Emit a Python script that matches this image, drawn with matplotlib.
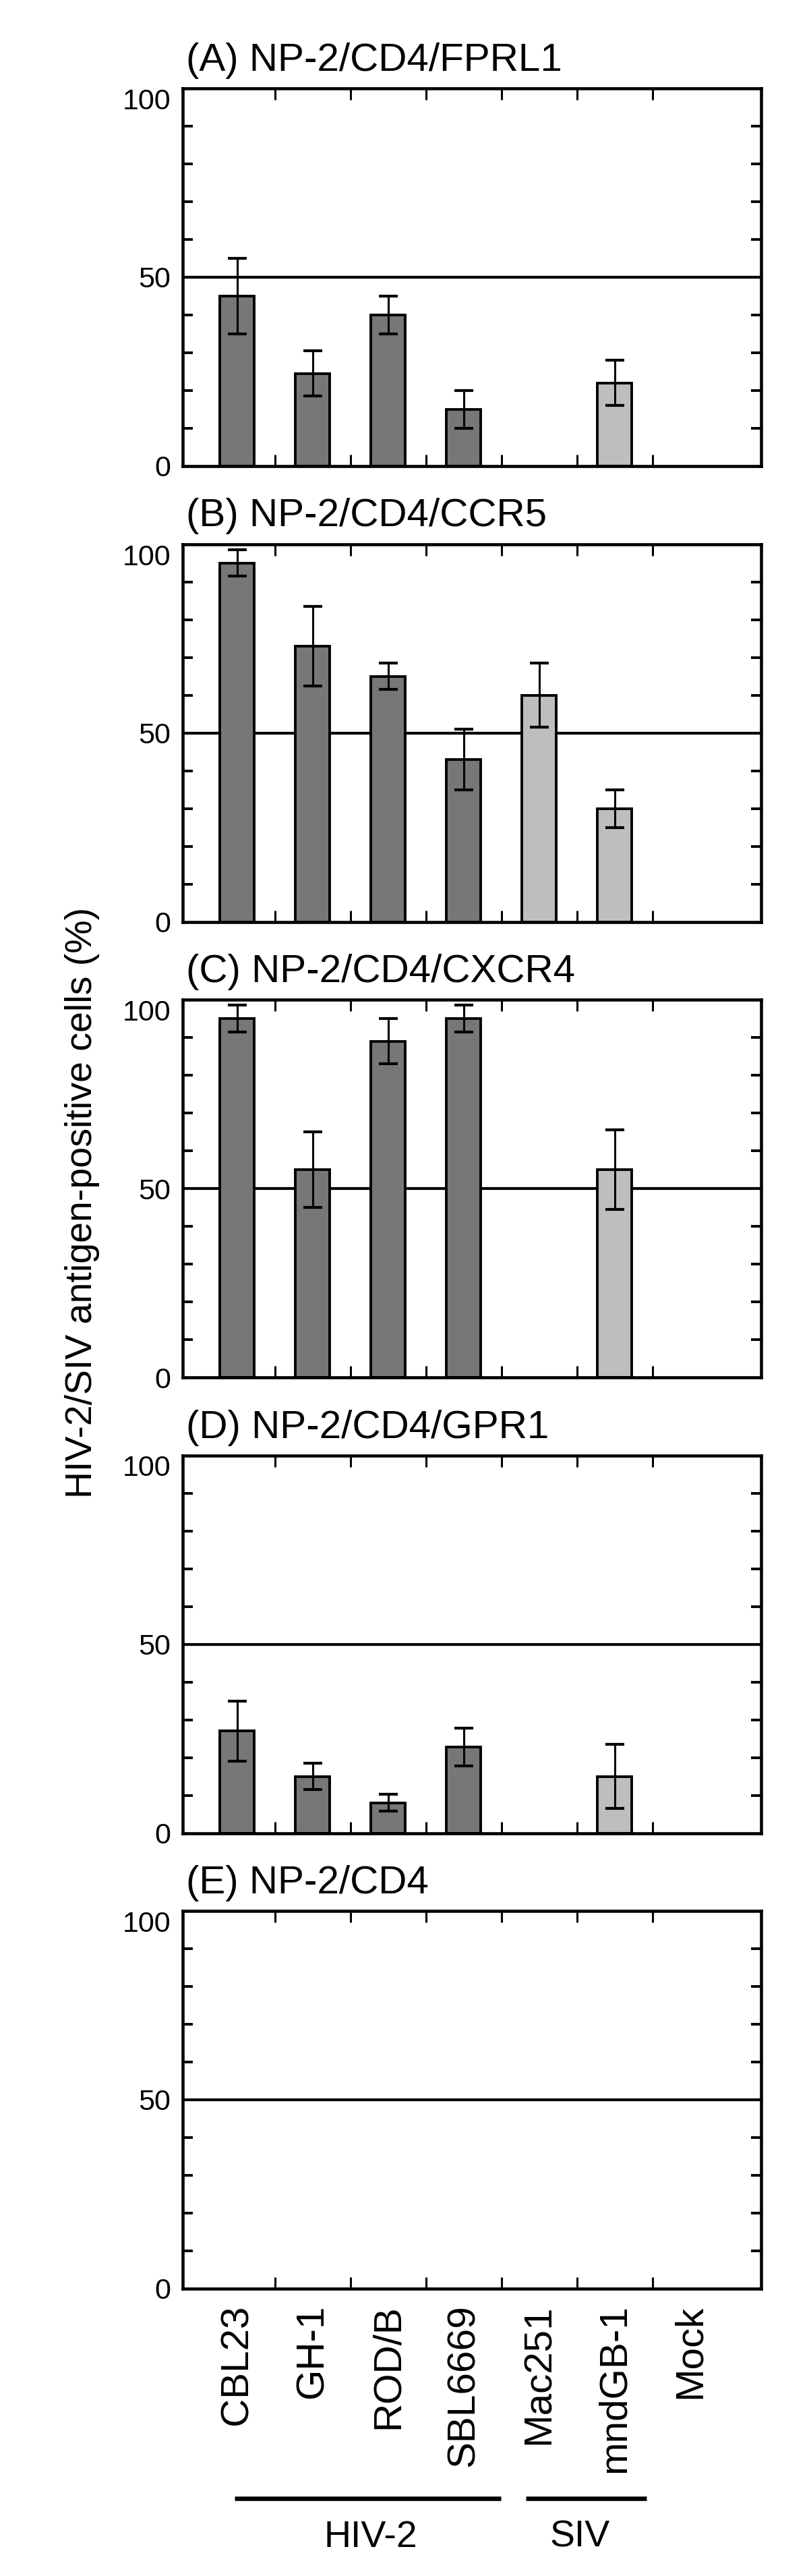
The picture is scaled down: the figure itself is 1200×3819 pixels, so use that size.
import numpy as np
import matplotlib.pyplot as plt
from matplotlib import transforms

plt.rcParams['font.family'] = ['Liberation Sans', 'DejaVu Sans']

# strains on the x axis, and which of them are SIV (light bars)
categories = ['CBL23', 'GH-1', 'ROD/B', 'SBL6669', 'Mac251', 'mndGB-1', 'Mock']
is_siv = [False, False, False, False, True, True, False]

titles = ['(A) NP-2/CD4/FPRL1', '(B) NP-2/CD4/CCR5', '(C) NP-2/CD4/CXCR4',
          '(D) NP-2/CD4/GPR1', '(E) NP-2/CD4']

# % antigen-positive cells (0 = no bar)
vals_A = [45, 24.5, 40, 15, 0, 22, 0]
errs_A = [10, 6, 5, 5, 0, 6, 0]
vals_B = [95, 73, 65, 43, 60, 30, 0]
errs_B = [3.5, 10.5, 3.5, 8, 8.5, 5, 0]
vals_C = [95, 55, 89, 95, 0, 55, 0]
errs_C = [3.5, 10, 6, 3.5, 0, 10.5, 0]
vals_D = [27, 15, 8, 22.7, 0, 15, 0]
errs_D = [8, 3.5, 2.2, 5, 0, 8.5, 0]
vals_E = [0, 0, 0, 0, 0, 0, 0]
errs_E = [0, 0, 0, 0, 0, 0, 0]

all_vals = [vals_A, vals_B, vals_C, vals_D, vals_E]
all_errs = [errs_A, errs_B, errs_C, errs_D, errs_E]

group_names = ['HIV-2', 'SIV']
group_spans = [(-0.03, 3.49), (3.82, 5.42)]   # line extents under the labels
group_text_x = [1.77, 4.54]

dark = '#777777'
light = '#bebebe'

FIG_W, FIG_H = 1200., 3819.
fig = plt.figure(figsize=(12, 38.19), dpi=100)

x = np.arange(len(categories))
colors = np.array([light if s else dark for s in is_siv])

for i in range(5):
    top = 131 + 675.5 * i
    ax = fig.add_axes([271 / FIG_W, 1 - (top + 560) / FIG_H, 858 / FIG_W, 560 / FIG_H])
    vals = np.array(all_vals[i], dtype=float)
    errs = np.array(all_errs[i], dtype=float)

    ax.axhline(50, color='k', lw=3, zorder=1)
    m = vals > 0
    if m.any():
        ax.bar(x[m], vals[m], width=0.46, color=colors[m], edgecolor='k', linewidth=2.8, zorder=2)
        ax.errorbar(x[m], vals[m], yerr=errs[m], fmt='none', ecolor='k',
                    elinewidth=2.2, capsize=10.4, capthick=3, zorder=3)

    ax.set_xlim(-0.72, 6.94)
    ax.set_ylim(0, 100)

    # y axis: labels at 0/50/100, small inward ticks every 10
    ax.set_yticks([0, 50, 100])
    ax.set_yticklabels(['0', '50', '100'])
    ax.set_yticks([10, 20, 30, 40, 60, 70, 80, 90], minor=True)
    ax.tick_params(axis='y', which='major', length=0, pad=13, labelsize=31)
    ax.tick_params(axis='y', which='minor', direction='in', length=11, width=2.8,
                   left=True, right=True)
    ax.get_yticklabels()[2].set_va('top')

    # x axis: inward ticks between categories on top and bottom
    ax.set_xticks(np.arange(0.5, 6, 1), minor=True)
    ax.tick_params(axis='x', which='minor', direction='in', length=12, width=2.2,
                   top=True, bottom=True)
    ax.set_xticks(x)
    if i == 4:
        ax.set_xticklabels(categories, rotation=90, fontsize=42)
        ax.tick_params(axis='x', which='major', length=0, pad=17)
    else:
        ax.tick_params(axis='x', which='major', length=0, labelbottom=False)

    for s in ax.spines.values():
        s.set_linewidth(3.3)

    ax.text(0.006, 1 + 26 / 560, titles[i], transform=ax.transAxes,
            fontsize=42, ha='left', va='baseline')

# group brackets under the last panel
trans = transforms.blended_transform_factory(ax.transData, fig.transFigure)
for name, (x0, x1), tx in zip(group_names, group_spans, group_text_x):
    ax.plot([x0, x1], [1 - 3704 / FIG_H] * 2, color='k', lw=4.7,
            transform=trans, clip_on=False, solid_capstyle='butt')
    ax.text(tx, 1 - 3776 / FIG_H, name, transform=trans, fontsize=40,
            ha='center', va='baseline')

fig.text(122 / FIG_W, 1 - 1783 / FIG_H, 'HIV-2/SIV antigen-positive cells (%)',
         rotation=90, fontsize=40, ha='center', va='center')

fig.savefig('out.png', dpi=100)
